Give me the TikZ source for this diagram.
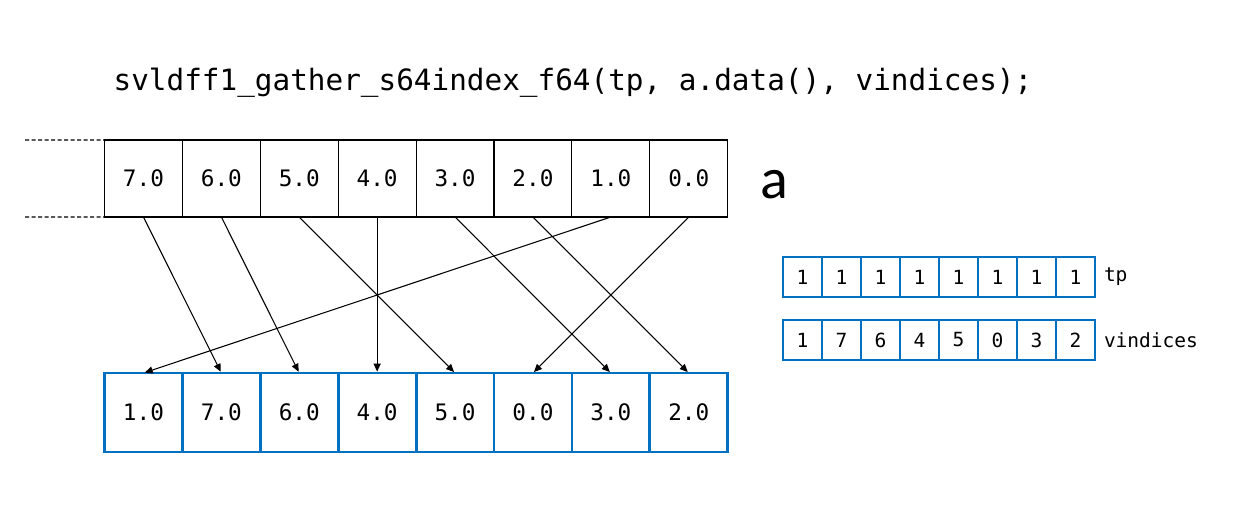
\documentclass[tikz,border=0pt]{standalone}
\usepackage{fontspec}
\setmonofont{DejaVu Sans Mono}
\newfontfamily\labelfont{Carlito}
\usetikzlibrary{positioning,arrows.meta}
\definecolor{cellblue}{RGB}{0,112,192}

\begin{document}
\begin{tikzpicture}[scale=0.2]
		\tikzstyle{every node}+=[inner sep=0pt, outer sep=0pt]
		\tikzstyle{acell}=[draw=black, line width=0.6pt, minimum width=1.558cm, minimum height=1.54cm, font=\ttfamily\fontsize{12.9}{15}\selectfont]
		\tikzstyle{rcell}=[draw=cellblue, line width=1.6pt, minimum width=1.558cm, minimum height=1.58cm, font=\ttfamily\fontsize{12.9}{15}\selectfont]
		\tikzstyle{pcell}=[draw=cellblue, line width=1.4pt, minimum width=0.78cm, minimum height=0.8cm, font=\ttfamily\fontsize{11.1}{13}\selectfont]
		\tikzstyle{gather}=[black, line width=0.6pt, -{Triangle[length=4.5pt,width=4pt]}, shorten >=0.8pt]
		\useasboundingbox (0,0) rectangle (125.2,-51.7);
		\draw (57.3,-8.3) node (call) [font=\ttfamily\fontsize{16.7}{19}\selectfont] {svldff1\_gather\_s64index\_f64(tp, a.data(), vindices);};
		% array a
		\foreach \v [count=\i from 0] in {7.0,6.0,5.0,4.0,3.0,2.0,1.0,0.0}
			\node [acell] (a\i) at ({10.45+7.79*(\i+0.5)},-17.85) {\v};
		\draw (77.4,-18.5) node (aname) [font=\labelfont\fontsize{33}{36}\selectfont] {a};
		\coordinate (dtop) at (2.5,-14.0);
		\coordinate (dbot) at (2.5,-21.7);
		\draw [line width=0.6pt, dash pattern=on 2.3pt off 1.4pt] (dtop) -- (a0.north west);
		\draw [line width=0.6pt, dash pattern=on 2.3pt off 1.4pt] (dbot) -- (a0.south west);
		% result
		\foreach \v [count=\i from 0] in {1.0,7.0,6.0,4.0,5.0,0.0,3.0,2.0}
			\node [rcell] (r\i) at ({10.45+7.79*(\i+0.5)},-41.25) {\v};
		% tp and vindices
		\foreach \v [count=\i from 0] in {1,1,1,1,1,1,1,1}
			\node [pcell] (p\i) at ({78.3+3.9*(\i+0.5)},-27.7) {\v};
		\foreach \v [count=\i from 0] in {1,7,6,4,5,0,3,2}
			\node [pcell] (v\i) at ({78.3+3.9*(\i+0.5)},-34.0) {\v};
		\node [right=0.18cm of p7, font=\ttfamily\fontsize{11.1}{13}\selectfont] (tpname) {tp};
		\node [right=0.18cm of v7, font=\ttfamily\fontsize{11.1}{13}\selectfont] (viname) {vindices};
		% gather arrows
		\draw [gather] (a0.south) -- (r1.north);
		\draw [gather] (a1.south) -- (r2.north);
		\draw [gather] (a2.south) -- (r4.north);
		\draw [gather] (a3.south) -- (r3.north);
		\draw [gather] (a4.south) -- (r6.north);
		\draw [gather] (a5.south) -- (r7.north);
		\draw [gather] (a6.south) -- (r0.north);
		\draw [gather] (a7.south) -- (r5.north);
	\end{tikzpicture}
\end{document}
